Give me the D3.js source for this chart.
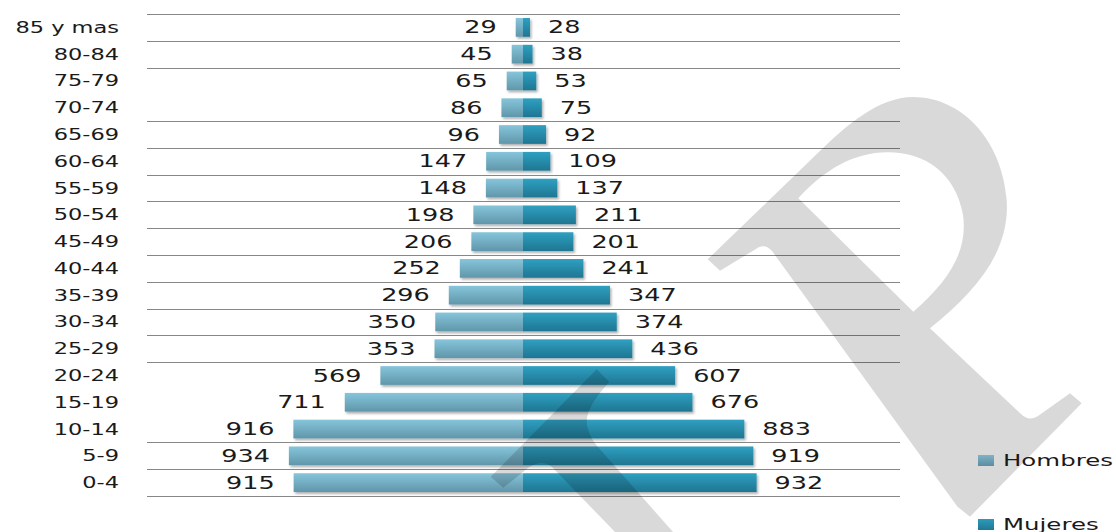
<!DOCTYPE html>
<meta charset="utf-8">
<style>
body { margin: 0; background: #fff; }
text { font-family: "DejaVu Sans", Verdana, sans-serif; fill: #1a1a1a; }
.grid line { stroke: #878787; stroke-width: 1px; shape-rendering: crispEdges; }
</style>
<body>
<script src="https://d3js.org/d3.v7.min.js"></script>
<script>

// age groups, top row first
var ageGroups = ["85 y mas", "80-84", "75-79", "70-74", "65-69", "60-64", "55-59",
                 "50-54", "45-49", "40-44", "35-39", "30-34", "25-29", "20-24",
                 "15-19", "10-14", "5-9", "0-4"];
var hombres = [29, 45, 65, 86, 96, 147, 148, 198, 206, 252, 296, 350, 353, 569, 711, 916, 934, 915];
var mujeres = [28, 38, 53, 75, 92, 109, 137, 211, 201, 241, 347, 374, 436, 607, 676, 883, 919, 932];
var seriesNames = ["Hombres", "Mujeres"];
var xDomain = [-1500, 1500];

// gridlines that do not show in the original picture
var hiddenGrid = [3, 14, 15];

var width = 1116, height = 532;

var svg = d3.select("body").append("svg")
    .attr("width", width)
    .attr("height", height);

var defs = svg.append("defs");

// vertical gradients for the two series
function gradient(id, top, bottom) {
  var g = defs.append("linearGradient").attr("id", id)
      .attr("x1", 0).attr("y1", 0).attr("x2", 0).attr("y2", 1);
  g.append("stop").attr("offset", "0%").attr("stop-color", top);
  g.append("stop").attr("offset", "100%").attr("stop-color", bottom);
}
gradient("gH", "#86c5db", "#6096aa");
gradient("gM", "#30a0c1", "#1e7692");
gradient("kH", "#7fb2c6", "#5b8da1");
gradient("kM", "#2d9aba", "#1f7995");

var shadow = defs.append("filter").attr("id", "shadow")
    .attr("x", "-10%").attr("y", "-30%").attr("width", "130%").attr("height", "170%");
shadow.append("feDropShadow")
    .attr("dx", 1.5).attr("dy", 2).attr("stdDeviation", 1.3)
    .attr("flood-color", "#000").attr("flood-opacity", 0.3);

// scales
var x = d3.scaleLinear().domain(xDomain).range([147, 899]);
var y = d3.scaleBand().domain(ageGroups).range([14, 496])
    .paddingInner(0.3).paddingOuter(0.15);

// horizontal separators between rows
var step = y.step();
var gridY = d3.range(ageGroups.length + 1)
    .filter(function(i) { return hiddenGrid.indexOf(i) < 0; })
    .map(function(i) { return Math.round(y.range()[0] + i * step) + 0.5; });

svg.append("g").attr("class", "grid")
  .selectAll("line")
  .data(gridY)
  .enter().append("line")
    .attr("x1", x.range()[0]).attr("x2", x.range()[1] + 1)
    .attr("y1", function(d) { return d; })
    .attr("y2", function(d) { return d; });

var rows = ageGroups.map(function(a, i) {
  return {age: a, h: hombres[i], m: mujeres[i]};
});

// bars
var bars = svg.append("g").attr("filter", "url(#shadow)");
bars.selectAll(".barH")
    .data(rows)
  .enter().append("rect")
    .attr("class", "barH")
    .attr("x", function(d) { return x(-d.h); })
    .attr("width", function(d) { return x(0) - x(-d.h); })
    .attr("y", function(d) { return y(d.age); })
    .attr("height", y.bandwidth())
    .attr("fill", "url(#gH)");

bars.selectAll(".barM")
    .data(rows)
  .enter().append("rect")
    .attr("class", "barM")
    .attr("x", x(0))
    .attr("width", function(d) { return x(d.m) - x(0); })
    .attr("y", function(d) { return y(d.age); })
    .attr("height", y.bandwidth())
    .attr("fill", "url(#gM)");

// watermark (grey letter shapes laid over the chart)
var wm = svg.append("g").attr("fill", "#000").attr("fill-opacity", 0.15);
wm.append("path")
    .attr("fill-rule", "evenodd")
    .attr("d",
      "M707.7,259.3 L823,148 C845,127 878,97 913,97 C962,97 1002,140 1006.7,200 " +
      "C1010,250 978,290 930,328.3 L1021,414 C1026,419 1032,420 1038,416 L1070,393.3 " +
      "L1081.7,403.3 L970,516.7 L957.5,506.7 L772,251 C767,245 761,245 756,249 L720,270.7 Z " +
      "M798.3,198.3 C815,180 840,158 875,153 C920,148 955,170 963,215 " +
      "C968,250 950,280 913.3,311.7 Z");
wm.append("path")
    .attr("d",
      "M490.7,476.7 L596.7,369.3 L609.3,381.7 C595,398 585,412 587,425 " +
      "C589,435 593,441 598,447 L673,532 L615,532 L552,467 " +
      "C545,461 537,462 528,468 L503.3,487.7 Z");

// stretched text helper (the original type is wide)
function wideText(parent, tx, ty, str, anchor, size) {
  parent.append("g")
      .attr("transform", "translate(" + tx + "," + ty + ") scale(1.5,1)")
    .append("text")
      .attr("text-anchor", anchor)
      .style("font-size", size + "px")
      .text(str);
}

// category labels
var labels = svg.append("g");
rows.forEach(function(d) {
  var cy = y(d.age) + y.bandwidth() / 2;
  wideText(labels, 119, cy + 5.5, d.age, "end", 15);
  wideText(labels, x(-d.h) - 19, cy + 6, d.h, "end", 17);
  wideText(labels, x(d.m) + 18, cy + 6, d.m, "start", 17);
});

// legend
var legend = svg.append("g");
var legendY = [455, 519];
var keyFill = ["url(#kH)", "url(#kM)"];
seriesNames.forEach(function(name, i) {
  legend.append("rect")
      .attr("x", 978).attr("y", legendY[i])
      .attr("width", 16).attr("height", 11)
      .attr("fill", keyFill[i]);
  wideText(legend, 1003, legendY[i] + 11, name, "start", 16.3);
});

</script>
</body>
